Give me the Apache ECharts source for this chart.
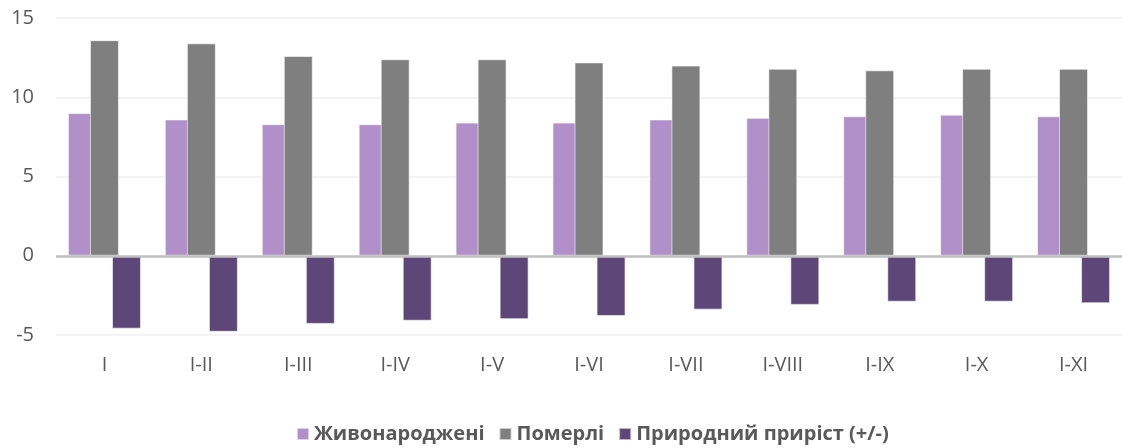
<!DOCTYPE html>
<html><head><meta charset="utf-8">
<script src="https://cdn.jsdelivr.net/npm/echarts@6/dist/echarts.min.js"></script>
<style>html,body{margin:0;padding:0;background:#fff}#c{width:1122px;height:448px}</style>
</head><body><div id="c"></div>
<script>
const categories = ['I','I-II','I-III','I-IV','I-V','I-VI','I-VII','I-VIII','I-IX','I-X','I-XI'];
const born = [9.0, 8.6, 8.3, 8.3, 8.4, 8.4, 8.6, 8.7, 8.8, 8.9, 8.8];
const died = [13.6, 13.4, 12.6, 12.4, 12.4, 12.2, 12.0, 11.8, 11.7, 11.8, 11.8];
const growth = [-4.6, -4.8, -4.3, -4.1, -4.0, -3.8, -3.4, -3.1, -2.9, -2.9, -3.0];
const seriesNames = ['Живонароджені', 'Померлі', 'Природний приріст (+/-)'];
const colors = ['#B18FC8', '#7F7F7F', '#5D4779'];
const font = "'Open Sans', 'Noto Sans', sans-serif";

const chart = echarts.init(document.getElementById('c'), null, {renderer: 'canvas'});
const mk = (name, data, color) => ({
  name, type: 'bar', data, barWidth: 29, barGap: '-24%',
  itemStyle: {color, borderColor: 'rgba(255,255,255,0.6)', borderWidth: 1},
  emphasis: {disabled: true}
});
chart.setOption({
  animation: false,
  color: colors,
  grid: {left: 56, right: 0, top: 18, bottom: 113, containLabel: false},
  legend: {
    bottom: -1, left: 291, itemWidth: 12, itemHeight: 12, itemGap: 14,
    icon: 'rect',
    textStyle: {fontFamily: font, fontSize: 20, fontWeight: 'bold', color: '#595959'},
    data: seriesNames
  },
  xAxis: {
    type: 'category', data: categories,
    axisLine: {show: false}, axisTick: {show: false},
    axisLabel: {fontFamily: font, fontSize: 20, color: '#595959', margin: 20}
  },
  yAxis: {
    type: 'value', min: -5, max: 15, interval: 5,
    axisLine: {show: false}, axisTick: {show: false},
    axisLabel: {fontFamily: font, fontSize: 20, color: '#595959', margin: 22},
    splitLine: {lineStyle: {color: '#EFEFEF', width: 1.5}}
  },
  series: [
    mk(seriesNames[0], born, colors[0]),
    mk(seriesNames[1], died, colors[1]),
    Object.assign(mk(seriesNames[2], growth, colors[2]), {
      markLine: {
        silent: true, symbol: 'none', label: {show: false},
        lineStyle: {color: '#BFBFBF', width: 2.5, type: 'solid'},
        data: [{yAxis: 0}]
      }
    })
  ]
});
</script></body></html>
